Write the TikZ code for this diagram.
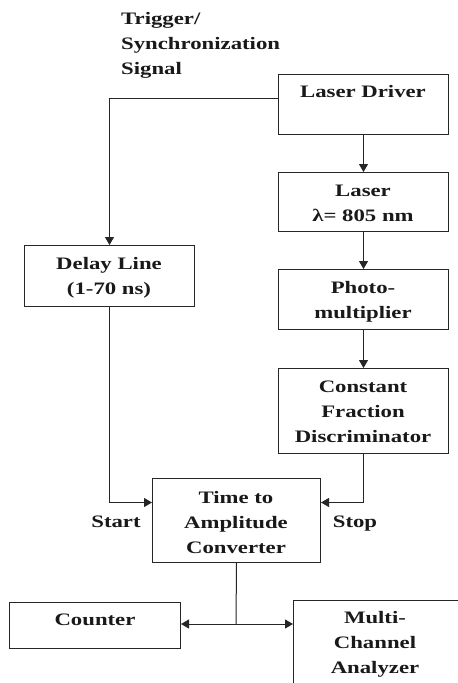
\documentclass[tikz,border=0pt]{standalone}
\usepackage{fontspec}
\newfontfamily\diafont[FakeStretch=1.3]{Liberation Serif}
\usetikzlibrary{arrows.meta}
\begin{document}
\begin{tikzpicture}[x=1pt,y=-1pt,
  box/.style={draw=black!85,line width=1pt,rectangle,inner sep=0pt,anchor=north west},
  txt/.style={font=\diafont\bfseries\fontsize{17.5}{25}\selectfont,align=center,inner sep=0pt,anchor=base,text=black!90},
  arr/.style={draw=black!85,line width=1pt,-{Triangle[length=8pt,width=9pt]}},
  ln/.style={draw=black!85,line width=1pt}]
\useasboundingbox (0,0) rectangle (458,683);
\clip (0,0) rectangle (458,683);
\fill[white] (0,0) rectangle (458,683);
% boxes
\node[box,minimum width=170pt,minimum height=60pt] (ld) at (278,74) {};
\node[box,minimum width=170pt,minimum height=59pt] (laser) at (278,172) {};
\node[box,minimum width=170pt,minimum height=60pt] (pm) at (278,269) {};
\node[box,minimum width=170pt,minimum height=85pt] (cfd) at (278,368) {};
\node[box,minimum width=170pt,minimum height=61pt] (dl) at (24,245) {};
\node[box,minimum width=168pt,minimum height=84pt] (tac) at (152,478) {};
\node[box,minimum width=171pt,minimum height=46pt] (cnt) at (9,602) {};
\node[box,minimum width=185pt,minimum height=100pt] (mca) at (293,600) {};
% texts (anchor = baseline of last line)
\node[txt,anchor=base west,align=left] (trig) at (121,74) {Trigger/\\Synchronization\\Signal};
\node[txt] (tld) at (363,97) {Laser Driver};
\node[txt] (tlaser) at (363,221) {Laser\\λ= 805 nm};
\node[txt] (tpm) at (363,318) {Photo-\\multiplier};
\node[txt] (tcfd) at (363,442) {Constant\\Fraction\\Discriminator};
\node[txt] (tdl) at (109,294) {Delay Line\\(1-70 ns)};
\node[txt] (ttac) at (236,553) {Time to\\Amplitude\\Converter};
\node[txt] (tcnt) at (95,625) {Counter};
\node[txt] (tmca) at (375,673) {Multi-\\Channel\\Analyzer};
\node[txt] (tstart) at (116,527) {Start};
\node[txt] (tstop) at (355,527) {Stop};
% connectors
\draw[arr] ([yshift=6pt]ld.west) -| (dl.north);
\draw[arr] (ld.south) -- (laser.north);
\draw[arr] (laser.south) -- (pm.north);
\draw[arr] (pm.south) -- (cfd.north);
\draw[arr] (dl.south) |- ([yshift=18pt]tac.west);
\draw[arr] (cfd.south) |- ([yshift=18pt]tac.east);
\coordinate (j) at (236,624);
\draw[ln] (tac.south) -- (j);
\draw[arr] (j) -- (j -| cnt.east);
\draw[arr] (j) -- (j -| mca.west);
\end{tikzpicture}
\end{document}
